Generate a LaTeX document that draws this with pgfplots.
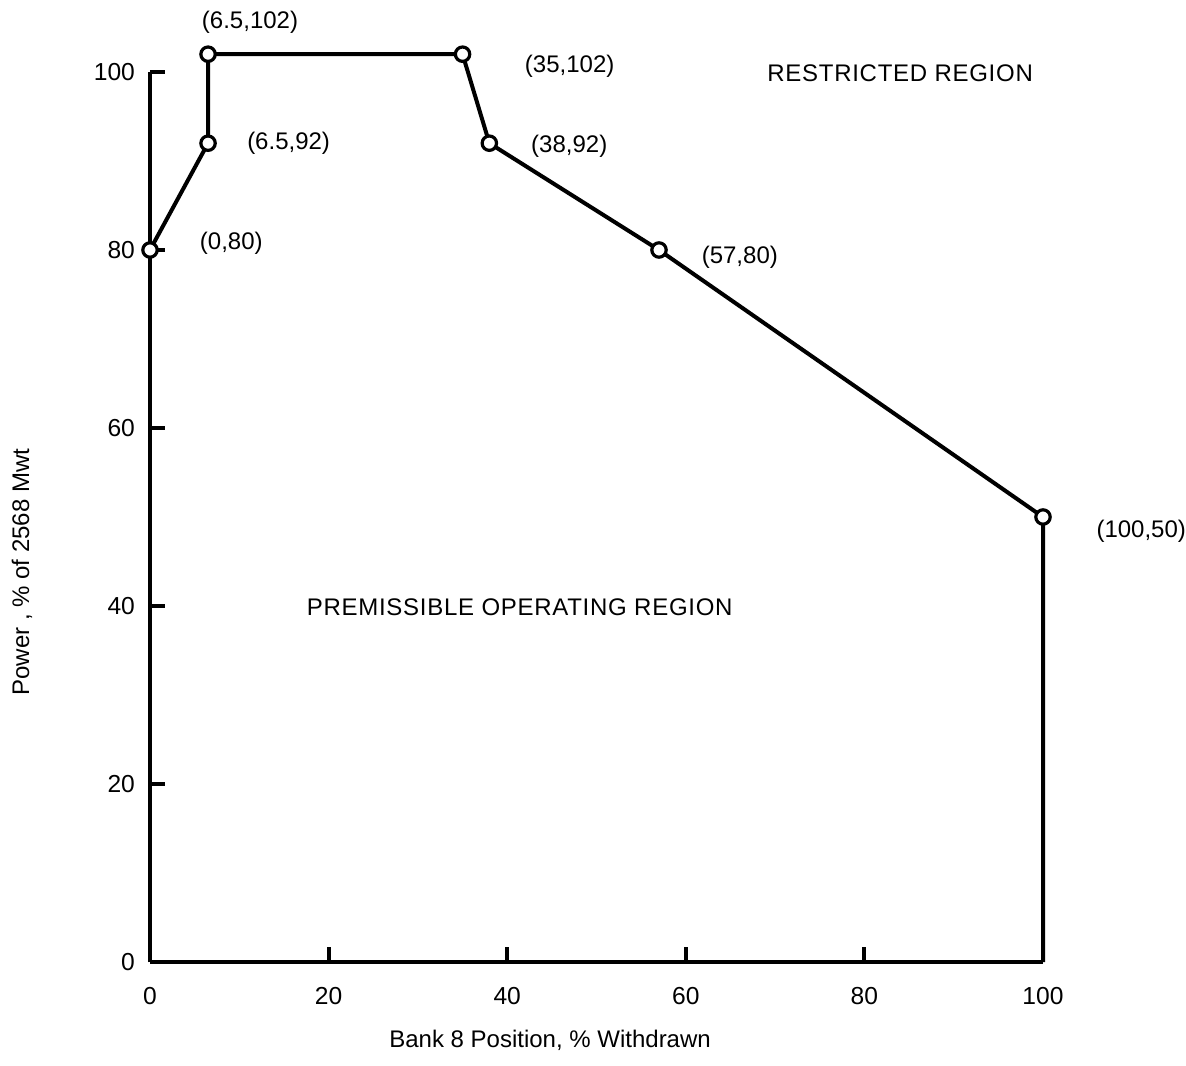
\documentclass[border=0pt]{standalone}
\usepackage{fontspec}
\setmainfont{Liberation Sans}
\newfontfamily\spaced[LetterSpace=3]{Liberation Sans}
\usepackage{pgfplots}
\pgfplotsset{compat=1.18}
\begin{document}
\begin{tikzpicture}[font=\fontsize{12}{14.4}\selectfont]
\useasboundingbox (-75pt,-51.5pt) rectangle (518pt,481pt);
\begin{axis}[
  at={(0,0)}, anchor=south west,
  scale only axis, width=446.5pt, height=445pt,
  xmin=0, xmax=100, ymin=0, ymax=100,
  axis lines=left,
  axis line style={line width=2pt, -},
  xtick={0,20,40,60,80,100},
  ytick={0,20,40,60,80,100},
  tick align=inside,
  major tick length=7.5pt,
  tick style={line width=2pt, black},
  /pgf/number format/assume math mode=true,
  ticklabel style={font=\fontsize{12.3}{14.4}\selectfont},
  xticklabel style={yshift=-9pt},
  yticklabel style={xshift=-4pt},
  clip=false,
]
% boundary of the permissible operating region
\addplot[line width=2pt, black] coordinates {
  (0,80) (6.5,92) (6.5,102) (35,102) (38,92) (57,80) (100,50) (100,0)
};
% break points
\addplot[only marks, mark=*, mark size=3.6pt,
  mark options={fill=white, draw=black, line width=1.6pt}] coordinates {
  (0,80) (6.5,92) (6.5,102) (35,102) (38,92) (57,80) (100,50)
};
\node at (axis cs:11.2,105.6) {(6.5,102)};
\node[anchor=west] at (axis cs:10.1,92) {(6.5,92)};
\node[anchor=west] at (axis cs:4.8,80.8) {(0,80)};
\node[anchor=west] at (axis cs:41.2,100.6) {(35,102)};
\node[anchor=west] at (axis cs:41.9,91.6) {(38,92)};
\node[anchor=west] at (axis cs:61.0,79.2) {(57,80)};
\node[anchor=west] at (axis cs:105.2,48.4) {(100,50)};
\node at (axis cs:84,99.9) {\spaced RESTRICTED REGION};
\node at (axis cs:41.4,39.9) {\spaced PREMISSIBLE OPERATING REGION};
\node[yshift=-39pt] at (axis cs:44.8,0) {Bank 8 Position, \% Withdrawn};
\node[rotate=90] at ([xshift=-64pt]axis cs:0,43.8) {Power , \% of 2568 Mwt};
\end{axis}
\end{tikzpicture}
\end{document}
